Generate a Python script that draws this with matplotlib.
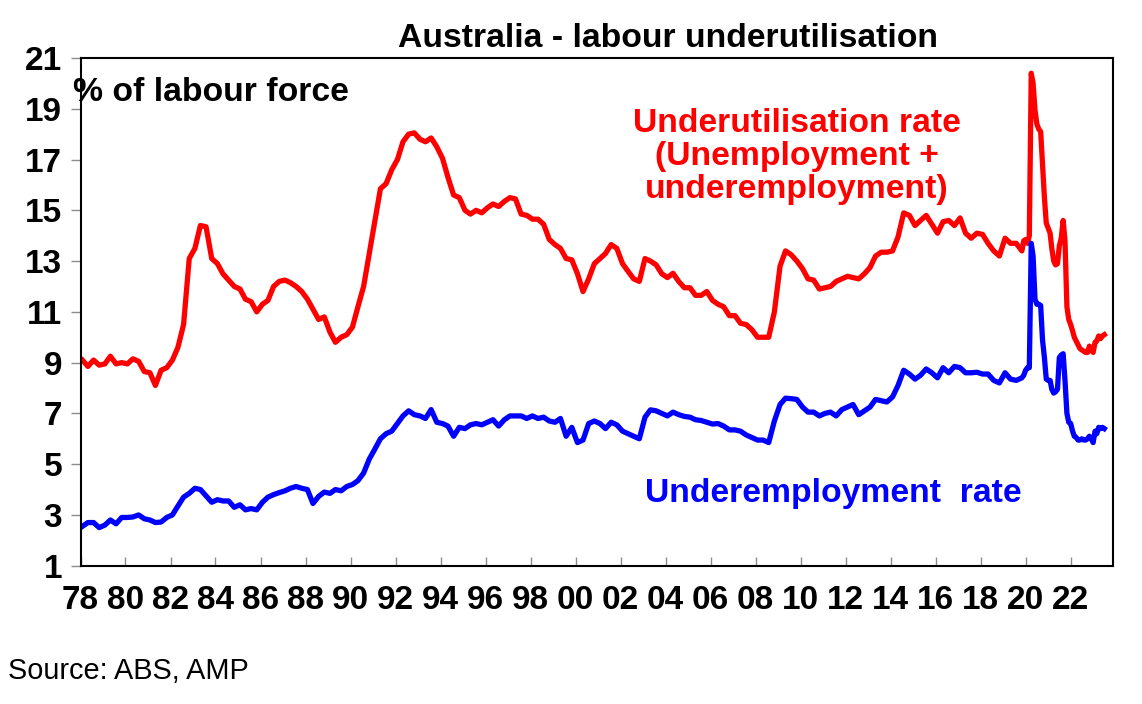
import matplotlib
matplotlib.use("Agg")
import matplotlib.pyplot as plt
import matplotlib.dates as mdates
import pandas as pd

plt.rcParams['font.family'] = ['Liberation Sans', 'DejaVu Sans']
plt.rcParams['font.weight'] = 'bold'

# ---- data ----
# quarterly observations Feb/May/Aug/Nov 1978 - 2019, then monthly Dec 2019 - Jul 2023
quarterly_dates = pd.date_range('1978-02-01', '2019-11-01', freq='3MS')
monthly_dates = pd.date_range('2019-12-01', '2023-07-01', freq='MS')
dates = quarterly_dates.append(monthly_dates)

underutilisation_q = [
    9.1, 8.85, 9.1, 8.9,      # 1978
    8.95, 9.25, 8.95, 9.0,    # 1979
    8.95, 9.15, 9.05, 8.65,   # 1980
    8.6, 8.1, 8.7, 8.8,       # 1981
    9.1, 9.6, 10.5, 13.1,     # 1982
    13.5, 14.4, 14.35, 13.1,  # 1983
    12.9, 12.5, 12.25, 12.0,  # 1984
    11.9, 11.5, 11.4, 11.0,   # 1985
    11.3, 11.45, 12.0, 12.2,  # 1986
    12.25, 12.15, 12.0, 11.8, # 1987
    11.5, 11.1, 10.7, 10.8,   # 1988
    10.2, 9.8, 10.0, 10.1,    # 1989
    10.4, 11.2, 12.0, 13.3,   # 1990
    14.6, 15.85, 16.05, 16.6, # 1991
    17.0, 17.7, 18.0, 18.05,  # 1992
    17.8, 17.7, 17.85, 17.5,  # 1993
    17.05, 16.3, 15.6, 15.5,  # 1994
    15.0, 14.85, 15.0, 14.9,  # 1995
    15.1, 15.25, 15.15, 15.35,# 1996
    15.5, 15.45, 14.85, 14.8, # 1997
    14.65, 14.65, 14.45, 13.85,  # 1998
    13.65, 13.5, 13.1, 13.05, # 1999
    12.5, 11.8, 12.3, 12.9,   # 2000
    13.1, 13.3, 13.65, 13.5,  # 2001
    12.9, 12.6, 12.3, 12.2,   # 2002
    13.1, 13.0, 12.85, 12.5,  # 2003
    12.35, 12.52, 12.2, 11.95,# 2004
    11.95, 11.65, 11.65, 11.8,# 2005
    11.45, 11.3, 11.2, 10.85, # 2006
    10.85, 10.55, 10.5, 10.3, # 2007
    10.0, 10.0, 10.0, 11.0,   # 2008
    12.8, 13.4, 13.25, 13.0,  # 2009
    12.7, 12.3, 12.25, 11.9,  # 2010
    11.95, 12.0, 12.2, 12.3,  # 2011
    12.4, 12.35, 12.3, 12.5,  # 2012
    12.75, 13.2, 13.35, 13.35,# 2013
    13.4, 13.95, 14.9, 14.8,  # 2014
    14.4, 14.6, 14.8, 14.45,  # 2015
    14.1, 14.55, 14.6, 14.4,  # 2016
    14.7, 14.1, 13.9, 14.1,   # 2017
    14.05, 13.7, 13.4, 13.2,  # 2018
    13.9, 13.7, 13.7, 13.4,   # 2019
]
underutilisation_m = [
    13.8,                                                                   # Dec 2019
    13.85, 13.7, 14.0, 20.4, 20.0, 18.95, 18.4, 18.2, 18.1, 16.8, 15.5, 14.5,  # 2020
    14.3, 14.1, 13.5, 13.0, 12.85, 12.9, 13.6, 13.9, 14.6, 13.8, 11.2, 10.7,   # 2021
    10.5, 10.25, 10.0, 9.85, 9.7, 9.55, 9.5, 9.45, 9.4, 9.4, 9.65, 9.5,        # 2022
    9.4, 9.8, 9.85, 10.05, 9.95, 10.05, 10.1,                                  # 2023
]

underemployment_q = [
    2.55, 2.7, 2.7, 2.5,      # 1978
    2.6, 2.8, 2.65, 2.9,      # 1979
    2.9, 2.92, 3.0, 2.85,     # 1980
    2.8, 2.7, 2.72, 2.9,      # 1981
    3.0, 3.35, 3.7, 3.85,     # 1982
    4.05, 4.0, 3.75, 3.5,     # 1983
    3.6, 3.55, 3.55, 3.3,     # 1984
    3.4, 3.2, 3.25, 3.2,      # 1985
    3.5, 3.7, 3.8, 3.88,      # 1986
    3.95, 4.05, 4.12, 4.05,   # 1987
    4.0, 3.45, 3.73, 3.9,     # 1988
    3.85, 4.0, 3.95, 4.12,    # 1989
    4.2, 4.35, 4.65, 5.2,     # 1990
    5.6, 6.0, 6.2, 6.3,       # 1991
    6.6, 6.9, 7.1, 6.95,      # 1992
    6.9, 6.8, 7.15, 6.65,     # 1993
    6.6, 6.5, 6.1, 6.45,      # 1994
    6.4, 6.55, 6.6, 6.55,     # 1995
    6.65, 6.75, 6.5, 6.75,    # 1996
    6.9, 6.9, 6.9, 6.8,       # 1997
    6.9, 6.8, 6.85, 6.7,      # 1998
    6.65, 6.8, 6.1, 6.45,     # 1999
    5.85, 5.95, 6.6, 6.7,     # 2000
    6.6, 6.4, 6.65, 6.55,     # 2001
    6.3, 6.2, 6.1, 6.0,       # 2002
    6.85, 7.14, 7.1, 7.0,     # 2003
    6.9, 7.05, 6.95, 6.88,    # 2004
    6.85, 6.75, 6.72, 6.65,   # 2005
    6.58, 6.6, 6.5, 6.35,     # 2006
    6.35, 6.3, 6.15, 6.05,    # 2007
    5.95, 5.95, 5.85, 6.7,    # 2008
    7.35, 7.6, 7.58, 7.55,    # 2009
    7.25, 7.05, 7.05, 6.9,    # 2010
    7.0, 7.05, 6.9, 7.15,     # 2011
    7.25, 7.35, 6.95, 7.1,    # 2012
    7.25, 7.55, 7.5, 7.45,    # 2013
    7.65, 8.1, 8.7, 8.55,     # 2014
    8.35, 8.5, 8.75, 8.6,     # 2015
    8.4, 8.8, 8.6, 8.85,      # 2016
    8.8, 8.6, 8.6, 8.62,      # 2017
    8.55, 8.55, 8.3, 8.2,     # 2018
    8.6, 8.35, 8.3, 8.4,      # 2019
]
underemployment_m = [
    8.5,                                                                  # Dec 2019
    8.7, 8.8, 8.8, 13.7, 13.2, 11.5, 11.3, 11.3, 11.25, 9.9, 9.2, 8.35,   # 2020
    8.3, 8.3, 7.95, 7.8, 7.85, 7.95, 9.2, 9.3, 9.35, 8.3, 7.0, 6.65,     # 2021
    6.6, 6.3, 6.1, 6.05, 5.95, 5.95, 6.0, 5.95, 5.95, 6.0, 6.1, 6.0,     # 2022
    5.85, 6.3, 6.2, 6.45, 6.4, 6.45, 6.4,                                # 2023
]

underutilisation = underutilisation_q + underutilisation_m
underemployment = underemployment_q + underemployment_m

tick_years = list(range(1978, 2023, 2))
y_ticks = list(range(1, 22, 2))

# ---- figure ----
W, H = 1142, 704
fig = plt.figure(figsize=(W / 100, H / 100), dpi=100)
ax = fig.add_axes([80.5 / W, (H - 565.7) / H, (1113.3 - 80.5) / W, (565.7 - 58) / H])

ax.plot(dates, underutilisation, color='#FF0000', lw=3.8, solid_joinstyle='round')
ax.plot(dates, underemployment, color='#0000FF', lw=3.8, solid_joinstyle='round')

ax.set_ylim(1, 21)
ax.set_yticks(y_ticks)
ax.set_xlim(pd.Timestamp('1978-01-01'), pd.Timestamp('2023-11-24'))
ax.set_xticks([pd.Timestamp(f'{y}-01-01') for y in tick_years])
ax.xaxis.set_major_formatter(mdates.DateFormatter('%y'))

ax.tick_params(axis='y', direction='out', length=7.2, width=1, color='#8c8c8c',
               labelsize=24, pad=6)
ax.tick_params(axis='x', direction='in', length=6.5, width=1, color='#8c8c8c',
               labelsize=24, pad=14)
for lab in ax.get_xticklabels() + ax.get_yticklabels():
    lab.set_fontweight('bold')

for s in ax.spines.values():
    s.set_linewidth(1.5)
    s.set_color('black')

def fx(px):
    return px / W

def fy(py):
    return 1 - py / H

fig.text(fx(668.5), fy(47), 'Australia - labour underutilisation', ha='center',
         va='baseline', fontsize=24.3, fontweight='bold')
fig.text(fx(73), fy(101), '% of labour force', ha='left', va='baseline',
         fontsize=24.3, fontweight='bold')

red_lines = ['Underutilisation rate', '(Unemployment +', 'underemployment)']
for txt, base in zip(red_lines, [132, 165, 198]):
    fig.text(fx(797), fy(base), txt, ha='center', va='baseline', fontsize=24.3,
             fontweight='bold', color='#FF0000')

fig.text(fx(833), fy(502), 'Underemployment  rate', ha='center', va='baseline',
         fontsize=24.3, fontweight='bold', color='#0000FF')

fig.text(fx(8), fy(679), 'Source: ABS, AMP', ha='left', va='baseline',
         fontsize=20.8, fontweight='normal')

fig.savefig('out.png', dpi=100)
